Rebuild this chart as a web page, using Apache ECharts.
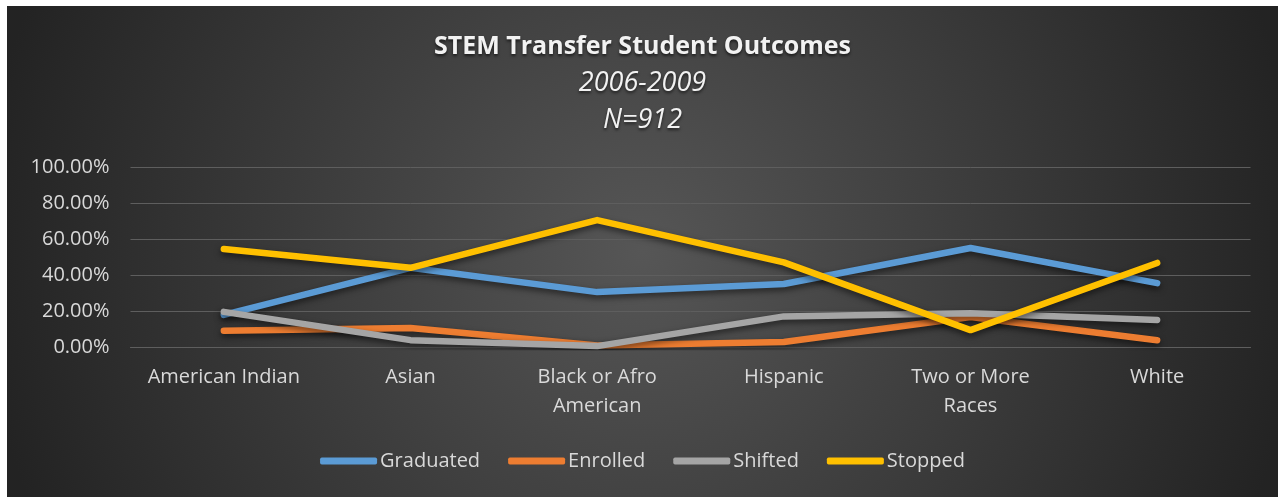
<!DOCTYPE html>
<html>
<head>
<meta charset="utf-8">
<script src="https://cdn.jsdelivr.net/npm/echarts@6/dist/echarts.min.js"></script>
<style>
  html, body { margin: 0; padding: 0; background: #fff; }
  #chart { position: absolute; left: 7px; top: 6px; width: 1271px; height: 491px; }
</style>
</head>
<body>
<div id="chart"></div>
<script>
const categories = ['American Indian', 'Asian', 'Black or Afro\nAmerican', 'Hispanic', 'Two or More\nRaces', 'White']
const graduated = [17.8, 44, 30.5, 35, 55, 35.5]
const enrolled = [9, 10.5, 0.8, 2.8, 16.7, 3.8]
const shifted = [19.5, 3.8, 0.5, 17, 18.7, 15]
const stopped = [54.4, 44, 70.5, 47, 9.4, 46.7]
const yTicks = [0, 20, 40, 60, 80, 100]

const font = 'Open Sans'
const labelColor = '#d9d9d9'
const titleShadow = {
  textShadowColor: 'rgba(0,0,0,0.6)',
  textShadowBlur: 3,
  textShadowOffsetY: 2
}

function lineSeries(name, data, color) {
  return {
    name: name,
    type: 'line',
    data: data,
    symbol: 'none',
    color: color,
    lineStyle: {
      color: color,
      width: 6.5,
      cap: 'round',
      join: 'round',
      shadowColor: 'rgba(0,0,0,0.55)',
      shadowBlur: 6,
      shadowOffsetY: 3
    },
    animation: false
  }
}

const chart = echarts.init(document.getElementById('chart'))
chart.setOption({
  backgroundColor: {
    type: 'radial', x: 0.5, y: 0.5, r: 1.35,
    colorStops: [
      { offset: 0, color: '#565656' },
      { offset: 1, color: '#232323' }
    ]
  },
  title: [
    {
      text: 'STEM Transfer Student Outcomes',
      left: 'center', top: 28, padding: 0,
      textStyle: Object.assign({ color: '#f2f2f2', fontFamily: font, fontWeight: 'bold', fontSize: 25 }, titleShadow)
    },
    {
      text: '2006-2009',
      left: 'center', top: 64, padding: 0,
      textStyle: Object.assign({ color: '#f2f2f2', fontFamily: font, fontStyle: 'italic', fontWeight: 'normal', fontSize: 27 }, titleShadow)
    },
    {
      text: 'N=912',
      left: 'center', top: 101, padding: 0,
      textStyle: Object.assign({ color: '#f2f2f2', fontFamily: font, fontStyle: 'italic', fontWeight: 'normal', fontSize: 27 }, titleShadow)
    }
  ],
  legend: {
    top: 445,
    left: 'center',
    padding: 0,
    icon: 'roundRect',
    itemWidth: 57,
    itemHeight: 7,
    itemGap: 28,
    textStyle: { color: labelColor, fontFamily: font, fontSize: 20, padding: [0, 0, 0, -2] },
    data: ['Graduated', 'Enrolled', 'Shifted', 'Stopped']
  },
  grid: { left: 123.5, right: 27.5, top: 161, bottom: 150 },
  xAxis: {
    type: 'category',
    data: categories,
    boundaryGap: true,
    axisLine: { show: true, lineStyle: { color: '#5e5e5e', width: 1 } },
    axisTick: { show: false },
    axisLabel: { interval: 0, color: labelColor, fontFamily: font, fontSize: 20, margin: 16, lineHeight: 29 }
  },
  yAxis: {
    type: 'value',
    min: yTicks[0],
    max: yTicks[yTicks.length - 1],
    interval: 20,
    axisLine: { show: false },
    axisTick: { show: false },
    splitLine: { lineStyle: { color: '#5e5e5e', width: 1 } },
    axisLabel: {
      color: labelColor, fontFamily: font, fontSize: 20, margin: 21,
      formatter: v => v.toFixed(2) + '%'
    }
  },
  series: [
    lineSeries('Graduated', graduated, '#5B9BD5'),
    lineSeries('Enrolled', enrolled, '#ED7D31'),
    lineSeries('Shifted', shifted, '#A5A5A5'),
    lineSeries('Stopped', stopped, '#FFC000')
  ]
})
</script>
</body>
</html>
